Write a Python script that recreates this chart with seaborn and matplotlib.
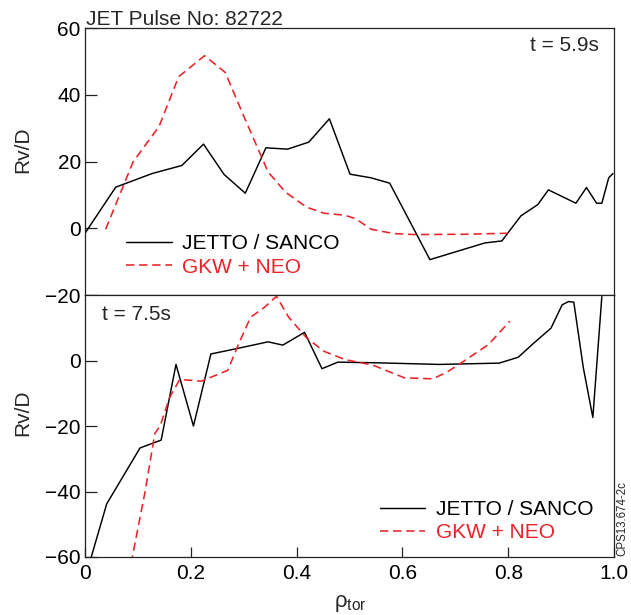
import numpy as np
import pandas as pd
import matplotlib
matplotlib.use("Agg")
import matplotlib.pyplot as plt
import seaborn as sns

# ---- data ----
rho_jetto_59 = [0.0, 0.058, 0.127, 0.183, 0.224, 0.263, 0.303, 0.342, 0.383, 0.423, 0.462,
                0.501, 0.541, 0.576, 0.652, 0.756, 0.788, 0.824, 0.856, 0.876, 0.928,
                0.948, 0.967, 0.977, 0.990, 0.998]
rv_jetto_59 = [-1.5, 12.3, 16.4, 18.8, 25.2, 16.1, 10.5, 24.1, 23.7, 25.8, 32.8,
               16.2, 15.1, 13.5, -9.4, -4.4, -3.8, 3.7, 7.1, 11.5, 7.5,
               12.2, 7.5, 7.5, 15.1, 16.4]

rho_gkw_59 = [0.039, 0.091, 0.140, 0.177, 0.226, 0.265, 0.299, 0.346, 0.379, 0.419, 0.452,
              0.491, 0.511, 0.541, 0.584, 0.624, 0.717, 0.799]
rv_gkw_59 = [-0.3, 19.9, 30.5, 45.4, 51.7, 46.7, 34.0, 16.9, 10.8, 6.3, 4.5,
             3.9, 2.9, -0.3, -1.6, -1.9, -1.8, -1.5]

rho_jetto_75 = [0.010, 0.041, 0.104, 0.144, 0.172, 0.205, 0.238, 0.286, 0.346, 0.374, 0.415,
                0.448, 0.478, 0.551, 0.670, 0.783, 0.819, 0.849, 0.881, 0.902, 0.914,
                0.924, 0.942, 0.960, 0.977]
rv_jetto_75 = [-61.0, -43.8, -26.7, -24.3, -1.2, -20.0, 2.0, 3.6, 5.7, 4.7, 8.6,
               -2.5, -0.5, -0.7, -1.2, -0.8, 1.0, 5.4, 9.9, 17.0, 18.0,
               17.8, -2.2, -17.4, 19.5]

rho_gkw_75 = [0.087, 0.114, 0.132, 0.142, 0.160, 0.179, 0.220, 0.270, 0.290, 0.313, 0.339,
              0.362, 0.385, 0.419, 0.452, 0.491, 0.544, 0.604, 0.657, 0.683, 0.716,
              0.763, 0.803]
rv_gkw_75 = [-62.0, -39.7, -22.3, -20.0, -11.3, -5.8, -6.3, -3.0, 4.9, 13.2, 16.2,
             19.6, 13.2, 6.9, 2.8, 0.3, -1.4, -5.3, -5.6, -3.7, -0.2,
             4.9, 12.0]

series_labels = ["JETTO / SANCO", "GKW + NEO"]
time_labels = ["t = 5.9s", "t = 7.5s"]
top_yticks = [-20, 0, 20, 40, 60]
bot_yticks = [-60, -40, -20, 0]
xticks = [0, 0.2, 0.4, 0.6, 0.8, 1.0]
xticklabels = ["0", "0.2", "0.4", "0.6", "0.8", "1.0"]

# ---- style ----
sns.set_style("ticks")
plt.rcParams["font.family"] = ["Liberation Sans", "DejaVu Sans"]
plt.rcParams["mathtext.fontset"] = "custom"
plt.rcParams["mathtext.rm"] = "Liberation Sans"
plt.rcParams["mathtext.it"] = "Liberation Sans:italic"
plt.rcParams["axes.linewidth"] = 0.9

RED = "#ec2229"
BLACK = "#000000"
FS = 15

fig = plt.figure(figsize=(6.31, 6.15), dpi=100)
W, H = 631, 615
left, right = 85 / W, 614 / W
ax1 = fig.add_axes([left, 1 - 295 / H, right - left, (295 - 28) / H])
ax2 = fig.add_axes([left, 1 - 557 / H, right - left, (557 - 295) / H])

dash = (0, (5.2, 3.0))

def draw(ax, xj, yj, xg, yg):
    sns.lineplot(x=xj, y=yj, ax=ax, color=BLACK, lw=1.05, sort=False,
                 estimator=None, label=series_labels[0])
    sns.lineplot(x=xg, y=yg, ax=ax, color=RED, lw=1.15, linestyle=dash, sort=False,
                 estimator=None, label=series_labels[1])

draw(ax1, rho_jetto_59, rv_jetto_59, rho_gkw_59, rv_gkw_59)
draw(ax2, rho_jetto_75, rv_jetto_75, rho_gkw_75, rv_gkw_75)

for ax in (ax1, ax2):
    ax.set_xlim(0, 1.0)
    for s in ax.spines.values():
        s.set_visible(True)
        s.set_color("#222222")
    ax.tick_params(axis="both", direction="in", labelsize=FS, length=8.5,
                   width=0.9, colors="#222222", labelcolor="black",
                   top=False, right=False)
    ax.tick_params(axis="y", pad=3)
    ax.set_xlabel("")
    ax.set_ylabel("")

ax1.set_ylim(-20, 60)
ax1.set_yticks(top_yticks)
ax1.tick_params(axis="x", bottom=False, labelbottom=False)

ax2.set_ylim(-60, 20)
ax2.set_yticks(bot_yticks)
ax2.set_xticks(xticks)
ax2.set_xticklabels(xticklabels)
ax2.tick_params(axis="x", pad=5, length=7.5)

def make_legend(ax, anchor):
    leg = ax.legend(loc="upper left", bbox_to_anchor=anchor, frameon=False,
                    fontsize=FS, handlelength=2.2, handletextpad=0.5,
                    labelspacing=0.22, borderpad=0, borderaxespad=0)
    for txt, c in zip(leg.get_texts(), [BLACK, RED]):
        txt.set_color(c)
    return leg

make_legend(ax1, (0.077, 0.228))
make_legend(ax2, (0.557, 0.218))

ax1.text(0.972, 0.936, time_labels[0], transform=ax1.transAxes, ha="right",
         va="center", fontsize=FS)
ax2.text(0.032, 0.924, time_labels[1], transform=ax2.transAxes, ha="left",
         va="center", fontsize=FS)

fig.text(86 / W, 1 - 25 / H, "JET Pulse No: 82722", ha="left", va="baseline",
         fontsize=FS)
fig.text(22.7 / W, 1 - 150 / H, "Rv/D", rotation=90, ha="center", va="center",
         fontsize=FS)
fig.text(22.7 / W, 1 - 413 / H, "Rv/D", rotation=90, ha="center", va="center",
         fontsize=FS)
fig.text(350 / W, 1 - 603 / H, "ρ$_{\\rm tor}$", ha="center", va="center",
         fontsize=FS + 1)
fig.text(622.5 / W, 1 - 519 / H, "CPS13.674-2c", rotation=90, ha="center",
         va="center", fontsize=8.3)

fig.savefig("out.png", dpi=100)
